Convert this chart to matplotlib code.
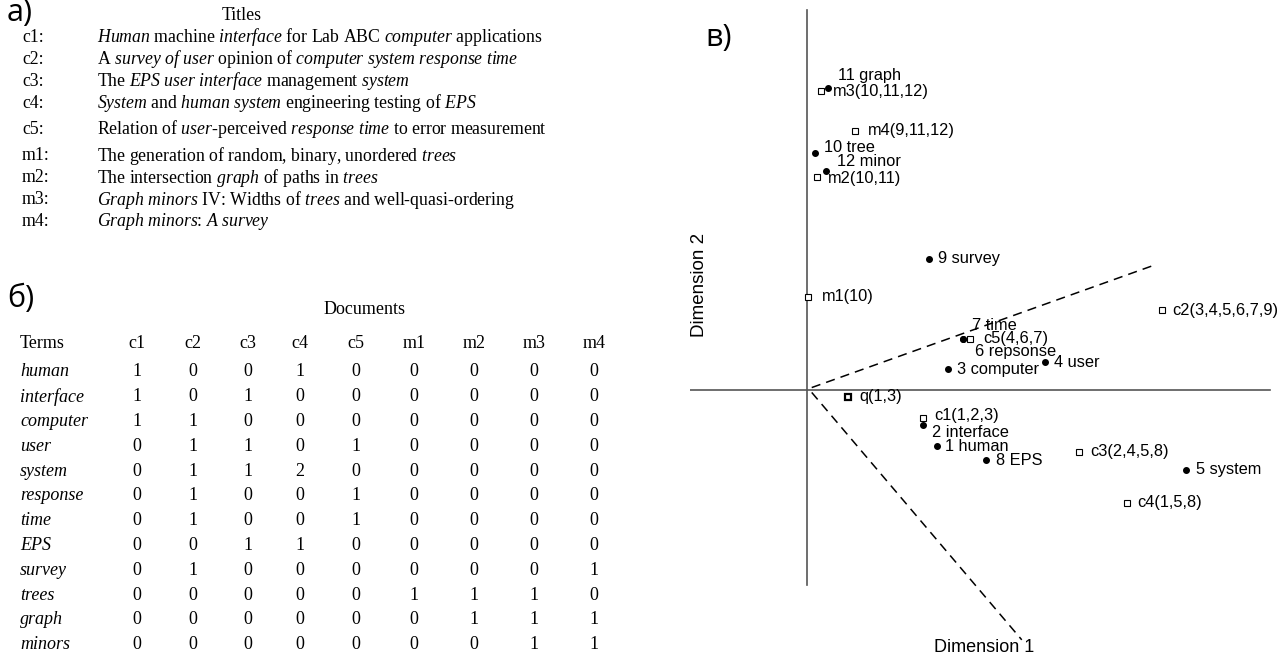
import matplotlib as mpl
import matplotlib.pyplot as plt

mpl.rcParams['mathtext.fontset'] = 'custom'
mpl.rcParams['mathtext.rm'] = 'Liberation Serif'
mpl.rcParams['mathtext.it'] = 'Liberation Serif:italic'

# а) document titles (*...* = italic words)
doc_ids = ['c1', 'c2', 'c3', 'c4', 'c5', 'm1', 'm2', 'm3', 'm4']
titles = [
    '*Human* machine *interface* for Lab ABC *computer* applications',
    'A *survey of user* opinion of *computer system response time*',
    'The *EPS user interface* management *system*',
    '*System* and *human system* engineering testing of *EPS*',
    'Relation of *user*-perceived *response time* to error measurement',
    'The generation of random, binary, unordered *trees*',
    'The intersection *graph* of paths in *trees*',
    '*Graph minors* IV: Widths of *trees* and well-quasi-ordering',
    '*Graph minors*: *A survey*',
]

# б) term-document matrix
terms = ['human', 'interface', 'computer', 'user', 'system', 'response',
         'time', 'EPS', 'survey', 'trees', 'graph', 'minors']
counts = [
    [1, 0, 0, 1, 0, 0, 0, 0, 0],
    [1, 0, 1, 0, 0, 0, 0, 0, 0],
    [1, 1, 0, 0, 0, 0, 0, 0, 0],
    [0, 1, 1, 0, 1, 0, 0, 0, 0],
    [0, 1, 1, 2, 0, 0, 0, 0, 0],
    [0, 1, 0, 0, 1, 0, 0, 0, 0],
    [0, 1, 0, 0, 1, 0, 0, 0, 0],
    [0, 0, 1, 1, 0, 0, 0, 0, 0],
    [0, 1, 0, 0, 0, 0, 0, 0, 1],
    [0, 0, 0, 0, 0, 1, 1, 1, 0],
    [0, 0, 0, 0, 0, 0, 1, 1, 1],
    [0, 0, 0, 0, 0, 0, 0, 1, 1],
]

# в) 2-d LSI space
term_labels = ['human', 'interface', 'computer', 'user', 'system', 'repsonse',
               'time', 'EPS', 'survey', 'tree', 'graph', 'minor']
term_x = [0.220, 0.197, 0.239, 0.403, 0.642, 0.264, 0.264, 0.303, 0.207, 0.014, 0.036, 0.032]
term_y = [-0.115, -0.072, 0.043, 0.057, -0.164, 0.105, 0.105, -0.144, 0.269, 0.487, 0.620, 0.450]
doc_x = [0.197, 0.602, 0.461, 0.542, 0.276, 0.002, 0.017, 0.024, 0.081]
doc_y = [-0.057, 0.164, -0.127, -0.232, 0.105, 0.191, 0.437, 0.614, 0.532]
query_terms = [1, 3]
q_x, q_y = 0.069, -0.014
cone_x = [0.590, 0.364]
cone_y = [0.257, -0.513]


def mixed(s):
    parts = s.split('*')
    out = ''
    for i, p in enumerate(parts):
        if i % 2:
            out += r'$\mathit{' + p.replace(' ', r'\ ') + '}$'
        else:
            out += p
    return out


fig = plt.figure(figsize=(12.82, 6.6), dpi=100)

# canvas in pixel coordinates for the two tables
ax0 = fig.add_axes([0, 0, 1, 1])
ax0.set_xlim(0, 1282)
ax0.set_ylim(660, 0)
ax0.axis('off')

serif = 'Liberation Serif'
panel_font = dict(family='Open Sans', fontsize=22, va='center', ha='left')
ax0.text(7, 13, 'а)', **panel_font)
ax0.text(7, 299, 'б)', **panel_font)
ax0.text(705, 38, 'в)', **panel_font)

# а)
ax0.text(242, 15, 'Titles', family=serif, fontsize=12.8, ha='center', va='center')
title_y = [37, 59, 81, 103, 129, 156, 178, 200, 222]
for d, t, y in zip(doc_ids, titles, title_y):
    ax0.text(22, y, d + ':', family=serif, fontsize=12.8, va='center')
    ax0.text(97, y, mixed(t), family=serif, fontsize=12.8, va='center')

# б)
col_x = [137, 193, 248, 300, 356, 414, 474, 534, 594]
ax0.text(365, 310, 'Documents', family=serif, fontsize=13, ha='center', va='center')
ax0.text(20, 343, 'Terms', family=serif, fontsize=13, va='center')
for d, x in zip(doc_ids, col_x):
    ax0.text(x, 343, d, family=serif, fontsize=13, ha='center', va='center')
for i, term in enumerate(terms):
    y = 372 + i * 24.8
    ax0.text(20, y, term, family=serif, style='italic', fontsize=13, va='center')
    for j, x in enumerate(col_x):
        ax0.text(x, y, str(counts[i][j]), family=serif, fontsize=13,
                 ha='center', va='center')

# в)
ax = fig.add_axes([690 / 1282, 0, 592 / 1282, 1])
ax.set_xlim(-117 / 590, 475 / 590)
ax.set_ylim(-270 / 487, 390 / 487)
ax.axis('off')

ax.plot([0, 0], [-0.400, 0.780], color='#555555', lw=1.2)
ax.plot([-0.198, 0.785], [0, 0], color='#555555', lw=1.2)
for cx, cy in zip(cone_x, cone_y):
    ax.plot([0.008, cx], [0.005 if cy > 0 else -0.005, cy], color='black',
            lw=1.1, linestyle=(0, (6, 4)))

sans = 'Liberation Sans'
ax.text(-0.182, 0.215, 'Dimension 2', family=sans, fontsize=13.5, rotation=90,
        ha='center', va='center')
ax.text(0.300, -0.528, 'Dimension 1', family=sans, fontsize=13,
        ha='center', va='center')

ax.plot(term_x, term_y, 'o', color='black', markersize=4)
ax.plot(doc_x, doc_y, 's', mfc='white', mec='black', mew=0.8, markersize=5)
ax.plot([q_x], [q_y], 's', mfc='white', mec='black', mew=1.6, markersize=5)

term_off = [(8, 0), (9, -7), (9, 0), (9, 0), (10, 0), (12, -13),
            (9, 13), (10, 0), (9, 0), (9, 5), (10, 13), (11, 9)]
for i, (name, x, y) in enumerate(zip(term_labels, term_x, term_y)):
    ax.annotate(f'{i + 1} {name}', (x, y), xytext=term_off[i],
                textcoords='offset pixels', family=sans, fontsize=11.8,
                ha='left', va='center')

doc_off = [(11, 2), (10, 0), (11, 0), (10, 0), (13, 0), (14, 0),
           (11, -1), (12, -1), (13, 0)]
for j, (d, x, y) in enumerate(zip(doc_ids, doc_x, doc_y)):
    idx = [str(i + 1) for i in range(len(terms)) if counts[i][j] > 0]
    ax.annotate(f"{d}({','.join(idx)})", (x, y), xytext=doc_off[j],
                textcoords='offset pixels', family=sans, fontsize=11.8,
                ha='left', va='center')
ax.annotate(f"q({','.join(str(t) for t in query_terms)})", (q_x, q_y),
            xytext=(12, 0), textcoords='offset pixels', family=sans,
            fontsize=11.8, ha='left', va='center')

fig.savefig('out.png', dpi=100)
